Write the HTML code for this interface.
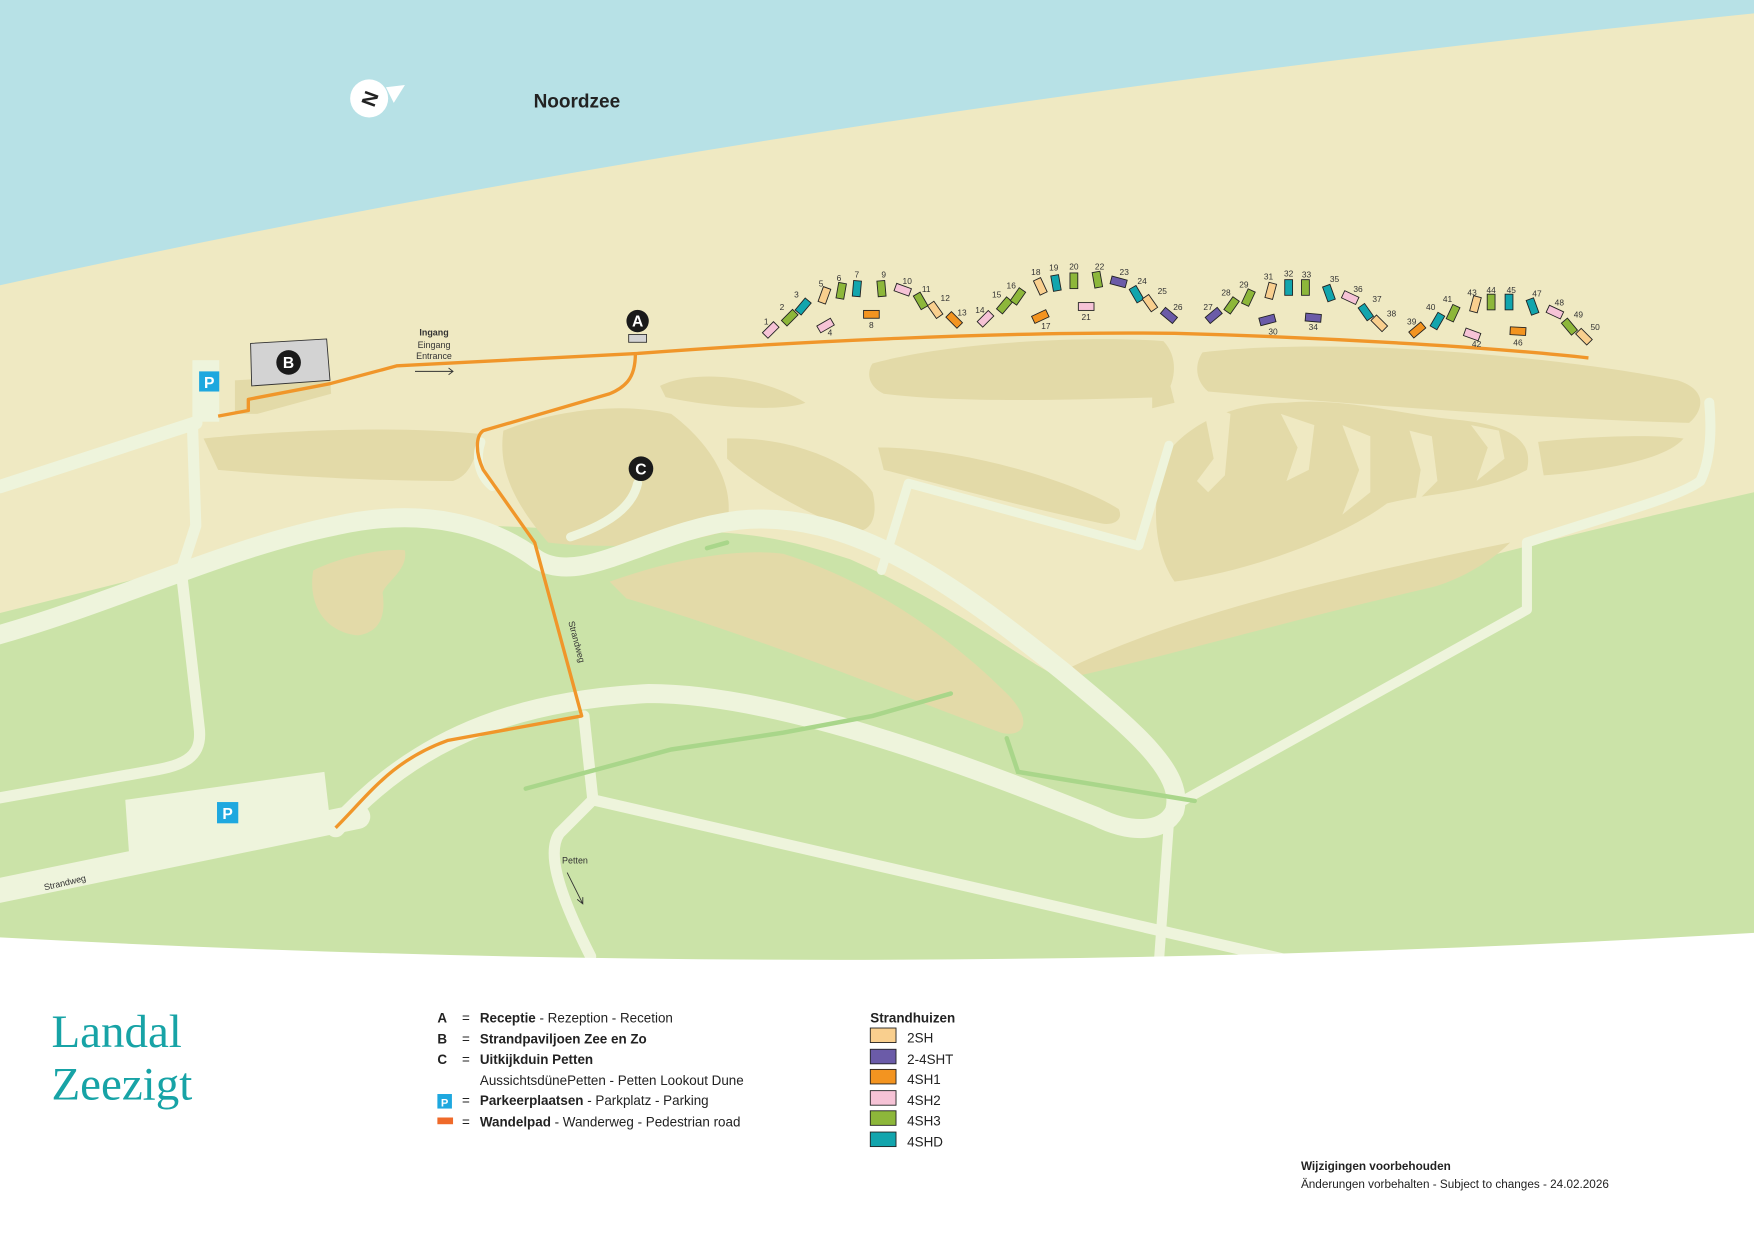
<!DOCTYPE html>
<html><head><meta charset="utf-8"><style>
html,body{margin:0;padding:0;background:#fff}
svg{display:block}
text{font-family:"Liberation Sans",sans-serif}
text.serif{font-family:"Liberation Serif",serif}
</style></head><body>
<svg width="1754" height="1241" viewBox="0 0 1568 1109.4" preserveAspectRatio="none" xmlns="http://www.w3.org/2000/svg">
<rect x="0" y="0" width="1568" height="1110" fill="#efe9c2"/>
<path d="M0,0 L1568,0 L1568,12 Q700,100 0,255 Z" fill="#b7e1e6"/>
<path d="M0,548 L160,508 C300,455 470,470 560,478 C650,470 700,480 760,500 C850,540 900,580 945,605 C1100,560 1300,500 1568,440 L1568,1109 L0,1109 Z" fill="#cbe3a8"/>
<g fill="#e3daa8">
<path d="M182,392 C250,385 350,380 430,388 C425,410 420,425 405,430 C330,430 250,425 195,420 Z"/>
<path d="M450,385 C500,365 560,360 600,370 C640,400 660,440 648,475 C600,490 530,490 490,485 C460,450 445,420 450,385 Z"/>
<path d="M590,345 C620,330 680,335 720,360 C700,368 640,365 595,355 Z"/>
<path d="M780,325 C850,305 980,300 1040,305 C1055,320 1050,345 1040,355 C950,358 850,360 790,352 C775,345 775,332 780,325 Z"/>
<path d="M1075,315 C1200,300 1400,320 1500,340 C1530,350 1520,370 1510,378 C1400,375 1250,365 1080,350 C1068,340 1068,325 1075,315 Z"/>
<path d="M650,392 C700,390 760,410 780,440 C785,460 780,475 765,475 C720,460 670,430 650,410 Z"/>
<path d="M785,400 C860,400 960,430 1000,455 C1005,465 995,470 985,468 C900,450 830,430 790,420 Z"/>
<path d="M1040,410 C1060,380 1100,360 1150,360 C1200,355 1250,370 1300,375 C1360,380 1370,400 1365,420 C1330,440 1280,440 1240,450 C1200,480 1120,510 1050,520 C1030,490 1030,450 1040,410 Z"/>
<path d="M1375,395 C1420,390 1480,388 1505,392 C1490,410 1440,420 1380,425 Z"/>
<path d="M545,520 C600,500 660,490 700,495 C780,520 850,570 900,620 C925,645 915,660 895,655 C800,620 680,570 560,535 Z"/>
<path d="M950,600 C1050,550 1200,515 1350,485 C1330,505 1300,520 1280,525 C1150,555 1050,585 960,605 Z"/>
<path d="M280,510 C310,495 350,490 362,492 C365,510 345,520 342,530 C345,550 340,565 320,568 C290,565 275,540 280,510 Z"/>
<path d="M1030,330 L1045,340 L1050,360 L1030,365 Z"/>
<path d="M210,340 L295,335 L296,352 L230,370 L210,370 Z"/>
</g>
<g fill="#efe9c2">
<path d="M1075,360 L1085,410 L1070,430 L1080,440 L1095,425 L1100,370 Z"/>
<path d="M1145,370 L1160,400 L1150,430 L1170,420 L1175,380 Z"/>
<path d="M1200,380 L1215,420 L1200,460 L1225,440 L1225,390 Z"/>
<path d="M1260,385 L1270,420 L1265,450 L1285,430 L1280,390 Z"/>
<path d="M1315,380 L1330,400 L1320,430 L1345,410 L1340,385 Z"/>
</g>
<g fill="none" stroke="#eef4dc" stroke-linecap="round" stroke-linejoin="round">
<path d="M-10,570 C100,540 200,490 300,470 C380,452 440,470 480,500 C520,525 580,475 660,465 C760,455 850,520 950,600 C1010,650 1060,690 1050,725 C1040,745 1010,745 980,730 C880,690 700,620 580,620 C480,625 380,650 300,740" stroke-width="17"/>
<path d="M-10,798 L320,730" stroke-width="22"/>
<path d="M0,435 L175,378" stroke-width="12"/>
<path d="M172,378 L175,470 L162,510 L178,650 C182,680 160,685 130,690 L-10,715" stroke-width="10"/>
<path d="M522,640 L530,715 L500,745 C490,760 495,790 528,855" stroke-width="10"/>
<path d="M530,715 L1150,858" stroke-width="10"/>
<path d="M1045,735 L1036,860" stroke-width="9"/>
<path d="M1050,720 L1365,545 L1365,485 C1440,460 1500,445 1520,430 C1530,410 1530,380 1528,360" stroke-width="9"/>
<path d="M1045,398 L1018,488 L812,432 L788,510" stroke-width="8"/>
<path d="M510,480 C540,470 565,455 570,432" stroke-width="8"/>
<path d="M430,395 C425,410 428,425 440,435" stroke-width="8"/>
</g>
<rect x="172" y="322" width="24" height="55" fill="#eef4dc"/>
<path d="M112,715 L290,690 L296,742 L116,772 Z" fill="#eef4dc"/>
<g fill="none" stroke="#a9d68a" stroke-width="4" stroke-linecap="round">
<path d="M470,705 L600,670 L700,655 L780,640 L850,620"/>
<path d="M632,490 L650,485"/>
<path d="M900,660 L910,690 L1068,716"/>
</g>
<path d="M0,838 Q784,880 1568,834 L1568,1110 L0,1110 Z" fill="#fff"/>
<g fill="none" stroke="#f0962a" stroke-width="3" stroke-linejoin="round">
<path d="M195,372 L222,367 L222,357 L295,343 L355,327 L570,316 C700,306 900,296 1050,298 C1200,302 1350,312 1420,320"/>
<path d="M568,316 C568,335 562,345 545,352 L432,385 C425,390 425,405 432,420 L478,485 L520,640 L400,662 C350,680 330,710 300,740"/>
</g>
<path d="M224,307 L292,303 L295,340 L225,345 Z" fill="#d3d3d3" stroke="#333" stroke-width="0.8"/>
<rect x="562" y="299" width="16" height="7" fill="#d3d3d3" stroke="#333" stroke-width="0.8"/>
<g font-weight="bold" fill="#fff" text-anchor="middle" font-size="14">
<circle cx="570" cy="287" r="10" fill="#1a1a1a"/><text x="570" y="292">A</text>
<circle cx="258" cy="324" r="11" fill="#1a1a1a"/><text x="258" y="329">B</text>
<circle cx="573" cy="419" r="11" fill="#1a1a1a"/><text x="573" y="424">C</text>
</g>
<g>
<rect x="178" y="332" width="18" height="18" fill="#1ea8df"/><text x="187" y="347" font-size="14" font-weight="bold" fill="#fff" text-anchor="middle">P</text>
<rect x="194" y="717" width="19" height="19" fill="#1ea8df"/><text x="203.5" y="732" font-size="14" font-weight="bold" fill="#fff" text-anchor="middle">P</text>
</g>
<path d="M345,78 L362,76 L352,92 Z" fill="#fff"/>
<circle cx="330" cy="88" r="17" fill="#fff"/>
<text x="330" y="95" font-size="18" font-weight="bold" fill="#222" text-anchor="middle" transform="rotate(-70 330 88)">N</text>
<text x="477" y="96" font-size="17" font-weight="bold" fill="#222">Noordzee</text>
<g font-size="8" fill="#333" text-anchor="middle">
<text x="388" y="300" font-weight="bold">Ingang</text>
<text x="388" y="311">Eingang</text>
<text x="388" y="321">Entrance</text>
<text x="514" y="772">Petten</text>
</g>
<path d="M371,332 L405,332 M401,329 L405,332 L401,335" stroke="#333" fill="none" stroke-width="0.8"/>
<path d="M507,780 L521,808 M516,804 L521,808 L521,802" stroke="#333" fill="none" stroke-width="0.8"/>
<text x="0" y="0" font-size="8" fill="#333" transform="translate(508,556) rotate(75)">Strandweg</text>
<text x="0" y="0" font-size="8" fill="#333" transform="translate(40,796) rotate(-13)">Strandweg</text>
<defs><rect id="h" x="-7" y="-3.5" width="14" height="7" stroke="#222" stroke-width="0.8"/></defs>
<g>
<use href="#h" fill="#f6c3d6" transform="translate(689,295) rotate(-45)"/>
<use href="#h" fill="#8db73a" transform="translate(706,284) rotate(-45)"/>
<use href="#h" fill="#12a5ad" transform="translate(718,274) rotate(-50)"/>
<use href="#h" fill="#f6c3d6" transform="translate(738,291) rotate(-30)"/>
<use href="#h" fill="#f9cf8e" transform="translate(737,264) rotate(-70)"/>
<use href="#h" fill="#8db73a" transform="translate(752,260) rotate(-80)"/>
<use href="#h" fill="#12a5ad" transform="translate(766,258) rotate(-85)"/>
<use href="#h" fill="#f39420" transform="translate(779,281) rotate(0)"/>
<use href="#h" fill="#8db73a" transform="translate(788,258) rotate(85)"/>
<use href="#h" fill="#f6c3d6" transform="translate(807,259) rotate(20)"/>
<use href="#h" fill="#8db73a" transform="translate(823,269) rotate(60)"/>
<use href="#h" fill="#f9cf8e" transform="translate(836,277) rotate(55)"/>
<use href="#h" fill="#f39420" transform="translate(853,286) rotate(45)"/>
<use href="#h" fill="#f6c3d6" transform="translate(881,285) rotate(-45)"/>
<use href="#h" fill="#8db73a" transform="translate(898,273) rotate(-50)"/>
<use href="#h" fill="#8db73a" transform="translate(910,265) rotate(-55)"/>
<use href="#h" fill="#f39420" transform="translate(930,283) rotate(-25)"/>
<use href="#h" fill="#f9cf8e" transform="translate(930,256) rotate(65)"/>
<use href="#h" fill="#12a5ad" transform="translate(944,253) rotate(80)"/>
<use href="#h" fill="#8db73a" transform="translate(960,251) rotate(90)"/>
<use href="#h" fill="#f6c3d6" transform="translate(971,274) rotate(0)"/>
<use href="#h" fill="#8db73a" transform="translate(981,250) rotate(80)"/>
<use href="#h" fill="#6b5ba8" transform="translate(1000,252) rotate(15)"/>
<use href="#h" fill="#12a5ad" transform="translate(1016,263) rotate(60)"/>
<use href="#h" fill="#f9cf8e" transform="translate(1028,271) rotate(55)"/>
<use href="#h" fill="#6b5ba8" transform="translate(1045,282) rotate(40)"/>
<use href="#h" fill="#6b5ba8" transform="translate(1085,282) rotate(-40)"/>
<use href="#h" fill="#8db73a" transform="translate(1101,273) rotate(-55)"/>
<use href="#h" fill="#8db73a" transform="translate(1116,266) rotate(-65)"/>
<use href="#h" fill="#6b5ba8" transform="translate(1133,286) rotate(-15)"/>
<use href="#h" fill="#f9cf8e" transform="translate(1136,260) rotate(-75)"/>
<use href="#h" fill="#12a5ad" transform="translate(1152,257) rotate(90)"/>
<use href="#h" fill="#8db73a" transform="translate(1167,257) rotate(90)"/>
<use href="#h" fill="#6b5ba8" transform="translate(1174,284) rotate(5)"/>
<use href="#h" fill="#12a5ad" transform="translate(1188,262) rotate(70)"/>
<use href="#h" fill="#f6c3d6" transform="translate(1207,266) rotate(25)"/>
<use href="#h" fill="#12a5ad" transform="translate(1221,279) rotate(55)"/>
<use href="#h" fill="#f9cf8e" transform="translate(1233,289) rotate(45)"/>
<use href="#h" fill="#f39420" transform="translate(1267,295) rotate(-40)"/>
<use href="#h" fill="#12a5ad" transform="translate(1285,287) rotate(-60)"/>
<use href="#h" fill="#8db73a" transform="translate(1299,280) rotate(-65)"/>
<use href="#h" fill="#f6c3d6" transform="translate(1316,299) rotate(20)"/>
<use href="#h" fill="#f9cf8e" transform="translate(1319,272) rotate(-75)"/>
<use href="#h" fill="#8db73a" transform="translate(1333,270) rotate(90)"/>
<use href="#h" fill="#12a5ad" transform="translate(1349,270) rotate(90)"/>
<use href="#h" fill="#f39420" transform="translate(1357,296) rotate(3)"/>
<use href="#h" fill="#12a5ad" transform="translate(1370,274) rotate(70)"/>
<use href="#h" fill="#f6c3d6" transform="translate(1390,279) rotate(25)"/>
<use href="#h" fill="#8db73a" transform="translate(1403,292) rotate(50)"/>
<use href="#h" fill="#f9cf8e" transform="translate(1416,301) rotate(45)"/>
</g>
<g font-size="7.5" fill="#333" text-anchor="middle">
<text x="685" y="290">1</text><text x="699" y="277">2</text><text x="712" y="266">3</text><text x="742" y="300">4</text>
<text x="734" y="256">5</text><text x="750" y="251">6</text><text x="766" y="248">7</text><text x="779" y="293">8</text>
<text x="790" y="248">9</text><text x="811" y="254">10</text><text x="828" y="261">11</text><text x="845" y="269">12</text>
<text x="860" y="282">13</text><text x="876" y="280">14</text><text x="891" y="266">15</text><text x="904" y="258">16</text>
<text x="935" y="294">17</text><text x="926" y="246">18</text><text x="942" y="242">19</text><text x="960" y="241">20</text>
<text x="971" y="286">21</text><text x="983" y="241">22</text><text x="1005" y="246">23</text><text x="1021" y="254">24</text>
<text x="1039" y="263">25</text><text x="1053" y="277">26</text><text x="1080" y="277">27</text><text x="1096" y="264">28</text>
<text x="1112" y="257">29</text><text x="1138" y="299">30</text><text x="1134" y="250">31</text><text x="1152" y="247">32</text>
<text x="1168" y="248">33</text><text x="1174" y="295">34</text><text x="1193" y="252">35</text><text x="1214" y="261">36</text>
<text x="1231" y="270">37</text><text x="1244" y="283">38</text><text x="1262" y="290">39</text><text x="1279" y="277">40</text>
<text x="1294" y="270">41</text><text x="1320" y="310">42</text><text x="1316" y="264">43</text><text x="1333" y="262">44</text>
<text x="1351" y="262">45</text><text x="1357" y="309">46</text><text x="1374" y="265">47</text><text x="1394" y="273">48</text>
<text x="1411" y="284">49</text><text x="1426" y="295">50</text>
</g>
<text class="serif" x="46" y="936" font-size="42" fill="#17a3a6">Landal</text>
<text class="serif" x="46" y="983" font-size="42" fill="#17a3a6">Zeezigt</text>
<g font-size="12" fill="#222">
<text x="391" y="914" font-weight="bold">A</text><text x="413" y="914">=</text><text x="429" y="914"><tspan font-weight="bold">Receptie</tspan> - Rezeption - Recetion</text>
<text x="391" y="933" font-weight="bold">B</text><text x="413" y="933">=</text><text x="429" y="933" font-weight="bold">Strandpaviljoen Zee en Zo</text>
<text x="391" y="951" font-weight="bold">C</text><text x="413" y="951">=</text><text x="429" y="951" font-weight="bold">Uitkijkduin Petten</text>
<text x="429" y="970">AussichtsdünePetten - Petten Lookout Dune</text>
<text x="413" y="988">=</text><text x="429" y="988"><tspan font-weight="bold">Parkeerplaatsen</tspan> - Parkplatz - Parking</text>
<text x="413" y="1007">=</text><text x="429" y="1007"><tspan font-weight="bold">Wandelpad</tspan> - Wanderweg - Pedestrian road</text>
</g>
<rect x="391" y="978" width="13" height="13" fill="#1ea8df"/><text x="397.5" y="989" font-size="10" font-weight="bold" fill="#fff" text-anchor="middle">P</text>
<rect x="391" y="999" width="14" height="6" fill="#ef6a2a"/>
<text x="778" y="914" font-size="12" font-weight="bold" fill="#222">Strandhuizen</text>
<g stroke="#222" stroke-width="0.8">
<rect x="778" y="919" width="23" height="13" fill="#f9cf8e"/>
<rect x="778" y="938" width="23" height="13" fill="#6b5ba8"/>
<rect x="778" y="956" width="23" height="13" fill="#f39420"/>
<rect x="778" y="975" width="23" height="13" fill="#f6c3d6"/>
<rect x="778" y="993" width="23" height="13" fill="#8db73a"/>
<rect x="778" y="1012" width="23" height="13" fill="#12a5ad"/>
</g>
<g font-size="12" fill="#222">
<text x="811" y="932">2SH</text><text x="811" y="951">2-4SHT</text><text x="811" y="969">4SH1</text>
<text x="811" y="988">4SH2</text><text x="811" y="1006">4SH3</text><text x="811" y="1025">4SHD</text>
</g>
<text x="1163" y="1046" font-size="10.5" font-weight="bold" fill="#222">Wijzigingen voorbehouden</text>
<text x="1163" y="1062" font-size="10.5" fill="#222">Änderungen vorbehalten - Subject to changes - 24.02.2026</text>
</svg>
</body></html>
